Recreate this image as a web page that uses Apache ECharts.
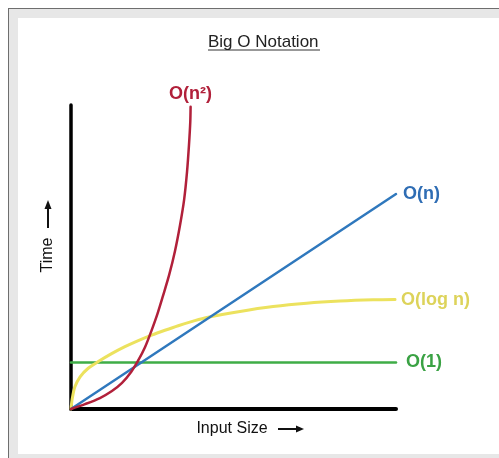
<!DOCTYPE html>
<html>
<head>
<meta charset="utf-8">
<script src="https://cdn.jsdelivr.net/npm/echarts@6/dist/echarts.min.js"></script>
<style>
  html, body { margin: 0; padding: 0; background: #ffffff; }
  #frame { position: absolute; left: 8px; top: 8px; width: 491px; height: 450px;
           background: #e7e7e7; border-left: 1px solid #6e6e6e; border-top: 1px solid #6e6e6e; box-sizing: border-box; }
  #inner { position: absolute; left: 18px; top: 18px; width: 481px; height: 436px; background: #ffffff; }
  #chart { position: absolute; left: 0; top: 0; width: 499px; height: 458px; }
</style>
</head>
<body>
<div id="frame"></div>
<div id="inner"></div>
<div id="chart"></div>
<script>
// Input size (x) and time (y) in arbitrary units, 0..100
const titleText = 'Big O Notation';
const xName = 'Input Size';
const yName = 'Time';

const quadX = [0, 4.3, 8.9, 12.6, 15.7, 18.5, 20.6, 22.8, 24.6, 26.6, 28.3, 30.2, 32.0, 33.5, 34.8, 35.7, 36.3, 36.7, 36.8];
const quadY = [0, 1.6, 3.6, 5.9, 8.6, 12.2, 15.8, 20.4, 25.3, 31.3, 37.2, 44.1, 52.0, 60.2, 68.8, 78.0, 86.8, 94.4, 99.4];

const linX = [0, 100];
const linY = [0, 70.7];

const logX = [0, 0.4, 1.2, 2.8, 5.3, 8.4, 12.5, 16.6, 20.7, 24.8, 28.9, 33.0, 37.6, 41.8, 52.0, 62.2, 72.5, 82.8, 93.0, 99.7];
const logY = [0, 3.5, 7.3, 10.6, 13.4, 15.6, 18.2, 20.5, 22.5, 24.3, 25.9, 27.4, 28.9, 30.1, 32.1, 33.7, 34.8, 35.5, 35.9, 36.0];

const constX = [0, 100];
const constY = [15.3, 15.3];

const seriesNames = ['O(n\u00B2)', 'O(n)', 'O(log n)', 'O(1)'];

function pairs(xs, ys) { return xs.map((x, i) => [x, ys[i]]); }

const FONT = '"Liberation Sans", Arial, Helvetica, sans-serif';

const chart = echarts.init(document.getElementById('chart'), null, { renderer: 'canvas' });

function lineSeries(name, data, color, labelColor, width, smooth, labelOpts) {
  return {
    name: name,
    type: 'line',
    data: data,
    smooth: smooth,
    showSymbol: false,
    symbol: 'none',
    clip: false,
    lineStyle: { color: color, width: width, cap: 'round', join: 'round' },
    itemStyle: { color: color },
    emphasis: { disabled: true },
    endLabel: Object.assign({
      show: true,
      formatter: name,
      color: labelColor,
      fontSize: 18,
      fontWeight: 'bold',
      fontFamily: FONT
    }, labelOpts)
  };
}

chart.setOption({
  backgroundColor: 'transparent',
  animation: false,
  title: {
    text: titleText,
    left: 208,
    top: 34,
    padding: 0,
    textStyle: { fontSize: 17, fontWeight: 'normal', color: '#222', fontFamily: FONT }
  },
  grid: { left: 71, right: 103, top: 105, bottom: 49 },
  xAxis: {
    type: 'value', min: 0, max: 100,
    axisLine: { show: true, onZero: false, lineStyle: { color: '#000', width: 4 } },
    axisTick: { show: false }, axisLabel: { show: false }, splitLine: { show: false }
  },
  yAxis: {
    type: 'value', min: 0, max: 100,
    axisLine: { show: true, onZero: false, lineStyle: { color: '#000', width: 3.5 } },
    axisTick: { show: false }, axisLabel: { show: false }, splitLine: { show: false }
  },
  series: [
    lineSeries(seriesNames[3], pairs(constX, constY), '#3fad47', '#3aa244', 2.5, false, { distance: 10 }),
    lineSeries(seriesNames[2], pairs(logX, logY), '#ece25e', '#ddd35a', 3, 0.3, { distance: 6 }),
    lineSeries(seriesNames[1], pairs(linX, linY), '#2f78bd', '#2f6db4', 2.5, false, { distance: 7 }),
    lineSeries(seriesNames[0], pairs(quadX, quadY), '#b1203a', '#b1203a', 2.5, 0.3, { align: 'center', verticalAlign: 'bottom', offset: [-8, -4] })
  ],
  graphic: [
    { type: 'line', shape: { x1: 208, y1: 50, x2: 320, y2: 50 }, style: { stroke: '#333', lineWidth: 1 } },
    { type: 'text', x: 232, y: 429, style: { text: xName, font: '16px ' + FONT, fill: '#111', align: 'center', verticalAlign: 'middle' } },
    { type: 'line', shape: { x1: 278, y1: 429, x2: 298, y2: 429 }, style: { stroke: '#111', lineWidth: 2 } },
    { type: 'polygon', shape: { points: [[296, 425.5], [304, 429], [296, 432.5]] }, style: { fill: '#111' } },
    { type: 'text', x: 48, y: 255, rotation: Math.PI / 2, style: { text: yName, font: '16px ' + FONT, fill: '#111', align: 'center', verticalAlign: 'middle' } },
    { type: 'line', shape: { x1: 48, y1: 228, x2: 48, y2: 207 }, style: { stroke: '#111', lineWidth: 2 } },
    { type: 'polygon', shape: { points: [[44.5, 209], [48, 200], [51.5, 209]] }, style: { fill: '#111' } }
  ]
});
</script>
</body>
</html>
